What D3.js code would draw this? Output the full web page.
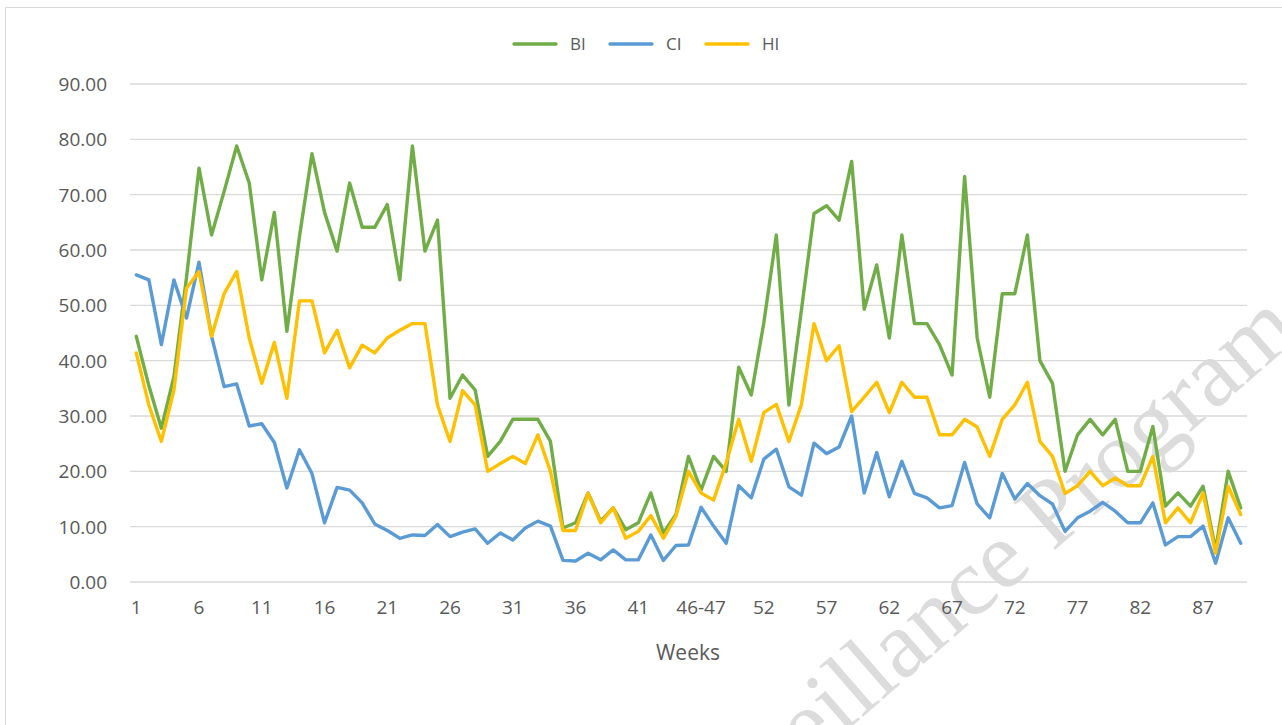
<!DOCTYPE html>
<html>
<head>
<meta charset="utf-8">
<script src="https://cdn.jsdelivr.net/npm/d3@7"></script>
<style>
  body { margin: 0; background: #fff; }
  svg { display: block; }
  text { font-family: "Open Sans", "Noto Sans", sans-serif; fill: #595959; }
</style>
</head>
<body>
<svg id="chart"></svg>
<script>
var weeks = ["1","2","3","4","5","6","7","8","9","10","11","12","13","14","15","16","17","18","19","20",
  "21","22","23","24","25","26","27","28","29","30","31","32","33","34","35","36","37","38","39","40",
  "41","42","43","44","45","46-47","48","49","50","51","52","53","54","55","56","57","58","59","60",
  "61","62","63","64","65","66","67","68","69","70","71","72","73","74","75","76","77","78","79","80",
  "81","82","83","84","85","86","87","88","89","90"];

var shownWeeks = ["1","6","11","16","21","26","31","36","41","46-47","52","57","62","67","72","77","82","87"];

var bi = [44.4,35.5,27.8,37.1,55,74.8,62.7,70.6,78.8,72.1,
  54.6,66.8,45.3,62.4,77.4,66.8,59.8,72.1,64.1,64.1,
  68.2,54.6,78.8,59.8,65.4,33.2,37.4,34.7,22.7,25.4,
  29.4,29.4,29.4,25.4,9.75,10.7,16.1,11.0,13.4,9.45,
  10.7,16.1,8.85,12.2,22.7,16.6,22.7,20.0,38.8,33.8,
  46.8,62.7,32.0,49.2,66.6,68.0,65.4,76.0,49.3,57.3,
  44.1,62.7,46.7,46.7,42.9,37.4,73.3,44.1,33.4,52.1,
  52.1,62.7,40.0,35.9,20.0,26.6,29.4,26.6,29.4,20.0,
  20.0,28.1,13.7,16.1,13.7,17.3,5.8,20.0,13.4];

var ci = [55.5,54.6,42.9,54.6,47.7,57.8,44.4,35.3,35.8,28.2,
  28.6,25.2,17.0,23.9,19.6,10.7,17.1,16.6,14.3,10.5,
  9.3,7.9,8.5,8.4,10.4,8.2,9.0,9.6,7.0,8.85,
  7.6,9.75,11.0,10.1,3.9,3.8,5.2,4.0,5.8,4.0,
  4.0,8.5,3.9,6.6,6.7,13.5,10.1,7.0,17.4,15.2,
  22.2,24.0,17.2,15.7,25.1,23.2,24.4,30.0,16.1,23.4,
  15.4,21.8,16.0,15.2,13.4,13.8,21.6,14.1,11.6,19.6,
  15.0,17.8,15.6,14.1,9.15,11.6,12.8,14.4,12.8,10.7,
  10.7,14.3,6.7,8.2,8.2,10.1,3.4,11.6,7.0];

var hi = [41.4,32.0,25.4,34.7,53.1,56.1,44.4,52.1,56.1,44.1,
  35.9,43.3,33.2,50.8,50.8,41.4,45.5,38.7,42.8,41.4,
  44.1,45.5,46.7,46.7,32.0,25.4,34.6,32.0,20.0,21.4,
  22.7,21.4,26.6,20.0,9.3,9.3,16.0,10.7,13.4,7.9,
  9.15,12.0,7.9,11.9,20.0,16.1,14.8,21.5,29.4,21.8,
  30.6,32.1,25.4,32.1,46.7,40.0,42.7,30.8,33.4,36.1,
  30.6,36.1,33.4,33.4,26.6,26.6,29.4,28.0,22.7,29.4,
  32.0,36.1,25.4,22.7,16.0,17.4,20.0,17.4,18.8,17.4,
  17.4,22.7,10.7,13.4,10.7,16.1,5.2,17.3,12.2];

var yTicks = [0,10,20,30,40,50,60,70,80,90];

var series = [
  { name: "BI", values: bi, color: "#70AD47" },
  { name: "CI", values: ci, color: "#5B9BD5" },
  { name: "HI", values: hi, color: "#FFC000" }
];

var width = 1282, height = 725;
var margin = { top: 84, right: 35, bottom: 143, left: 130 };

var svg = d3.select("#chart")
  .attr("width", width)
  .attr("height", height);

// chart frame
svg.append("rect")
  .attr("x", 5.5).attr("y", 7.5)
  .attr("width", width + 10).attr("height", height + 10)
  .attr("fill", "none")
  .attr("stroke", "#d9d9d9")
  .attr("stroke-width", 1);

// watermark, sits behind the chart
svg.append("text")
  .attr("transform", "translate(1302,335) rotate(-41)")
  .attr("text-anchor", "end")
  .style("font-family", "'Liberation Serif', 'DejaVu Serif', serif")
  .style("font-size", "96px")
  .style("fill", "#dcdcdc")
  .text("Surveillance Program");

var x = d3.scaleBand()
  .domain(weeks)
  .range([margin.left, width - margin.right]);

var y = d3.scaleLinear()
  .domain([0, 90])
  .range([height - margin.bottom, margin.top]);

// gridlines
svg.append("g")
  .attr("class", "grid")
  .selectAll("line")
  .data(yTicks)
  .enter().append("line")
    .attr("x1", margin.left)
    .attr("x2", width - margin.right)
    .attr("y1", function(d) { return y(d); })
    .attr("y2", function(d) { return y(d); })
    .attr("stroke", "#d9d9d9")
    .attr("stroke-width", 1.3);

// y axis
var yAxis = svg.append("g")
  .attr("transform", "translate(" + (margin.left - 23) + ",0)")
  .call(d3.axisLeft(y).tickValues(yTicks).tickSize(0).tickFormat(d3.format(".2f")));
yAxis.select(".domain").remove();
yAxis.selectAll("text")
  .style("font-size", "19px")
  .attr("dy", "0.35em")
  .attr("x", 0);

// x axis
var xAxis = svg.append("g")
  .attr("transform", "translate(0," + (height - margin.bottom) + ")")
  .call(d3.axisBottom(x).tickValues(shownWeeks).tickSize(0));
xAxis.select(".domain").remove();
xAxis.selectAll("text")
  .style("font-size", "19px")
  .attr("y", 32)
  .attr("dy", "0");

svg.append("text")
  .attr("x", 688)
  .attr("y", 660)
  .attr("text-anchor", "middle")
  .style("font-size", "21px")
  .text("Weeks");

// lines
var line = d3.line()
  .x(function(d, i) { return x(weeks[i]) + x.bandwidth() / 2; })
  .y(function(d) { return y(d); });

svg.append("g")
  .attr("class", "lines")
  .selectAll("path")
  .data(series)
  .enter().append("path")
    .attr("d", function(d) { return line(d.values); })
    .attr("fill", "none")
    .attr("stroke", function(d) { return d.color; })
    .attr("stroke-width", 3.4)
    .attr("stroke-linejoin", "round")
    .attr("stroke-linecap", "round");

// legend
var legendX = [514, 610, 706];
var legend = svg.append("g")
  .attr("class", "legend")
  .selectAll("g")
  .data(series)
  .enter().append("g")
    .attr("transform", function(d, i) { return "translate(" + legendX[i] + ",44)"; });

legend.append("line")
  .attr("x1", 0).attr("x2", 42)
  .attr("stroke", function(d) { return d.color; })
  .attr("stroke-width", 3.4)
  .attr("stroke-linecap", "round");

legend.append("text")
  .attr("x", 56)
  .attr("dy", "0.35em")
  .style("font-size", "17px")
  .text(function(d) { return d.name; });
</script>
</body>
</html>
